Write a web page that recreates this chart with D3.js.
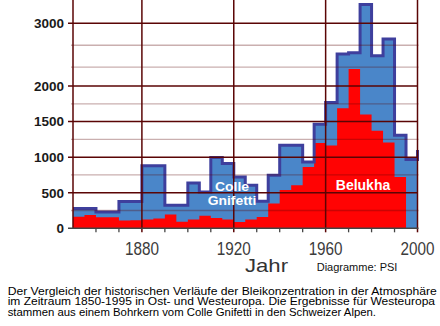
<!DOCTYPE html>
<html><head><meta charset="utf-8">
<script src="https://cdn.jsdelivr.net/npm/d3@7"></script>
<style>html,body{margin:0;padding:0;background:#fff;overflow:hidden}svg{display:block}</style>
</head><body>
<svg id="c" width="440" height="326"></svg>
<script>
// ---- data ----
const years = [1850,1855,1860,1865,1870,1875,1880,1885,1890,1895,1900,1905,1910,1915,1920,1925,1930,1935,1940,1945,1950,1955,1960,1965,1970,1975,1980,1985,1990,1995,2000];
const colleGnifetti = [280,280,230,230,375,375,880,880,325,325,637,510,994,910,722,605,380,745,1167,1167,933,1463,1768,2510,2530,3300,2483,2750,1308,967,1100];
const belukha = [163,187,155,155,110,113,122,137,195,92,122,178,145,122,89,122,160,347,540,605,862,1200,1165,1686,2270,1600,1370,1205,722,0];
const yMajorTicks = [0,500,1000,1500,2000,3000];
const yMinorTicks = [250,750,1250,1750,2300,2650];
const xMajorTicks = [1880,1920,1960,2000];
const xMinorTicks = [1860,1870,1890,1900,1910,1930,1940,1950,1970,1980,1990];
const seriesLabels = {colle: ["Colle","Gnifetti"], belukha: "Belukha"};
const xTitle = "Jahr";
const credit = "Diagramme: PSI";
const caption = [
  "Der Vergleich der historischen Verläufe der Bleikonzentration in der Atmosphäre",
  "im Zeitraum 1850-1995 in Ost- und Westeuropa. Die Ergebnisse für Westeuropa",
  "stammen aus einem Bohrkern vom Colle Gnifetti in den Schweizer Alpen."
];

// ---- scales ----
const svg = d3.select("#c");
const x = d3.scaleLinear().domain([1850, 2000]).range([73, 417.5]);
const y = d3.scaleLinear().domain([0, 2000, 3000]).range([228.3, 86, 23.3]);

const maroon = "#5a0505";
const blueFill = "#4a86c9";
const blueLine = "#3e3f9d";
const red = "#ff0303";

const bluePts = years.map((yr, i) => [yr, colleGnifetti[i]]);
const redPts = belukha.map((v, i) => [years[i], v]);

const area = d3.area().x(d => x(d[0])).y0(y(0)).y1(d => y(d[1])).curve(d3.curveStepAfter);
const line = d3.line().x(d => x(d[0])).y(d => y(d[1])).curve(d3.curveStepAfter);

// fills
svg.append("path").attr("d", area(bluePts)).attr("fill", blueFill);
svg.append("path").attr("d", area(redPts)).attr("fill", red);
svg.append("path").attr("d", line(bluePts)).attr("fill", "none")
  .attr("stroke", blueLine).attr("stroke-width", 3).attr("stroke-linejoin", "miter");

// minor horizontal grid
svg.append("g").selectAll("line").data(yMinorTicks).join("line")
  .attr("x1", x(1850) - 2).attr("x2", x(2000) + 1)
  .attr("y1", d => y(d)).attr("y2", d => y(d))
  .attr("stroke", maroon).attr("stroke-opacity", 0.32).attr("stroke-width", 1.3);

// major horizontal grid
svg.append("g").selectAll("line").data(yMajorTicks.filter(d => d > 0)).join("line")
  .attr("x1", x(1850) - 5).attr("x2", x(2000))
  .attr("y1", d => y(d)).attr("y2", d => y(d))
  .attr("stroke", maroon).attr("stroke-width", 1.5);

// vertical grid
svg.append("g").selectAll("line").data(xMajorTicks).join("line")
  .attr("x1", d => x(d)).attr("x2", d => x(d))
  .attr("y1", 0).attr("y2", y(0) + 4)
  .attr("stroke", maroon).attr("stroke-width", 1.5);

// left axis
svg.append("line").attr("x1", x(1850)).attr("x2", x(1850)).attr("y1", 0).attr("y2", y(0))
  .attr("stroke", maroon).attr("stroke-width", 1.5);
// bottom axis
svg.append("line").attr("x1", x(1850) - 5).attr("x2", x(2000) + 1).attr("y1", y(0)).attr("y2", y(0))
  .attr("stroke", "#444").attr("stroke-width", 1.5);
svg.append("g").selectAll("line").data(xMinorTicks).join("line")
  .attr("x1", d => x(d)).attr("x2", d => x(d)).attr("y1", y(0)).attr("y2", y(0) + 4)
  .attr("stroke", "#444").attr("stroke-width", 1.3);

// y labels
svg.append("g").selectAll("text").data(yMajorTicks).join("text")
  .attr("x", 64).attr("y", d => y(d) + 4.8)
  .attr("text-anchor", "end")
  .attr("font-family", "'Liberation Sans', Arial, sans-serif")
  .attr("font-weight", "bold").attr("font-size", 13.5).attr("fill", "#1a1a1a")
  .text(d => d);

// x labels
svg.append("g").selectAll("text").data(xMajorTicks).join("text")
  .attr("x", d => x(d)).attr("y", 254.5)
  .attr("text-anchor", "middle")
  .attr("font-family", "'Liberation Sans', Arial, sans-serif")
  .attr("font-size", 17.5).attr("fill", "#3c3c3c")
  .attr("textLength", 34).attr("lengthAdjust", "spacingAndGlyphs")
  .text(d => d);

// axis title + credit
svg.append("text").attr("x", 266.5).attr("y", 271.5).attr("text-anchor", "middle")
  .attr("font-family", "'Liberation Sans', Arial, sans-serif")
  .attr("font-size", 18.5).attr("fill", "#333")
  .attr("textLength", 43).attr("lengthAdjust", "spacingAndGlyphs")
  .text(xTitle);
svg.append("text").attr("x", 316.7).attr("y", 271)
  .attr("font-family", "'Liberation Sans', Arial, sans-serif")
  .attr("font-size", 11).attr("fill", "#111")
  .text(credit);

// series labels
const lab = svg.append("g").attr("font-family", "'Liberation Sans', Arial, sans-serif")
  .attr("font-weight", "bold").attr("fill", "#fff").attr("text-anchor", "middle");
lab.append("text").attr("x", 232).attr("y", 190.8).attr("font-size", 13)
  .attr("textLength", 34).attr("lengthAdjust", "spacingAndGlyphs").text(seriesLabels.colle[0]);
lab.append("text").attr("x", 232).attr("y", 205.4).attr("font-size", 13)
  .attr("textLength", 48.5).attr("lengthAdjust", "spacingAndGlyphs").text(seriesLabels.colle[1]);
lab.append("text").attr("x", 363).attr("y", 189.5).attr("font-size", 14).text(seriesLabels.belukha);

// caption
const capW = [429, 427.3, 368.3];
const capY = [294.5, 305, 315.5];
svg.append("g").selectAll("text").data(caption).join("text")
  .attr("x", 7.7).attr("y", (d, i) => capY[i])
  .attr("font-family", "'Liberation Sans', Arial, sans-serif")
  .attr("font-size", 11).attr("fill", "#000")
  .attr("textLength", (d, i) => capW[i]).attr("lengthAdjust", "spacingAndGlyphs")
  .text(d => d);
</script>
</body></html>
